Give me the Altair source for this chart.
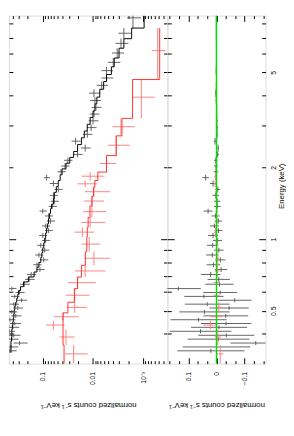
import altair as alt
import pandas as pd

FONT = "Liberation Sans"
TITLE = "normalized counts s⁻¹ keV⁻¹"

# ---------------- data ----------------
# black spectrum: energy bin edges (keV, descending), data, 1-sigma error, model
blk_edges = [9.27, 7.68, 6.93, 6.32, 5.75, 5.28, 4.90, 4.58, 4.25, 3.94, 3.69,
             3.45, 3.24, 3.03, 2.84, 2.66, 2.49, 2.33, 2.20, 2.08, 1.97,
             1.86, 1.76, 1.66, 1.57, 1.48, 1.40, 1.34, 1.28, 1.22, 1.16,
             1.11, 1.06, 1.01, 0.963, 0.919, 0.877, 0.837, 0.798, 0.762, 0.727,
             0.693, 0.661, 0.631, 0.608, 0.585, 0.564, 0.543, 0.523, 0.504, 0.485,
             0.467, 0.450, 0.434, 0.418, 0.402, 0.387, 0.373, 0.359, 0.346, 0.333]
blk_data = [0.0016, 0.00243, 0.00277, 0.0033, 0.00395, 0.00538, 0.00538, 0.00671, 0.00957, 0.00916,
            0.00875, 0.00957, 0.0100, 0.0109, 0.0130, 0.0222, 0.0143, 0.0203, 0.0316, 0.0361,
            0.0431, 0.0838, 0.0614, 0.0492, 0.0614, 0.0588, 0.0642, 0.100, 0.0767, 0.0702,
            0.0876, 0.0767, 0.100, 0.0876, 0.1093, 0.0915, 0.1194, 0.0957, 0.1304, 0.114,
            0.170, 0.186, 0.232, 0.413, 0.29, 0.361, 0.265, 0.378, 0.316, 0.413,
            0.345, 0.45, 0.361, 0.395, 0.47, 0.378, 0.413, 0.29, 0.43, 0.45]
blk_err = [0.0005, 0.0007, 0.0008, 0.0009, 0.0011, 0.0014, 0.0014, 0.0017, 0.0024, 0.0022,
           0.0019, 0.0021, 0.0022, 0.0024, 0.0028, 0.0045, 0.0032, 0.0042, 0.006, 0.007,
           0.008, 0.012, 0.011, 0.009, 0.011, 0.011, 0.012, 0.016, 0.014, 0.013,
           0.016, 0.014, 0.018, 0.016, 0.02, 0.017, 0.022, 0.018, 0.024, 0.022,
           0.035, 0.04, 0.05, 0.08, 0.06, 0.07, 0.06, 0.08, 0.07, 0.09,
           0.08, 0.1, 0.09, 0.1, 0.11, 0.1, 0.11, 0.09, 0.12, 0.12]
blk_model = [0.00096, 0.0017, 0.00243, 0.00303, 0.00378, 0.00431, 0.00538, 0.00614, 0.00733, 0.00838,
             0.00916, 0.0100, 0.0114, 0.0130, 0.0149, 0.0170, 0.0203, 0.0243, 0.029, 0.0345,
             0.0413, 0.0451, 0.0492, 0.0538, 0.0588, 0.0614, 0.0671, 0.0702, 0.0733, 0.0767,
             0.0801, 0.0838, 0.0876, 0.0915, 0.0957, 0.100, 0.1045, 0.1093, 0.1194, 0.1304,
             0.149, 0.194, 0.2425, 0.277, 0.303, 0.316, 0.330, 0.345, 0.361, 0.370,
             0.378, 0.386, 0.395, 0.404, 0.413, 0.413, 0.420, 0.430, 0.430, 0.430]

# red spectrum
red_edges = [7.68, 4.67, 3.21, 2.71, 2.24, 1.91, 1.76, 1.65, 1.51, 1.377, 1.23, 1.119,
             1.019, 0.885, 0.776, 0.693, 0.619, 0.543, 0.490, 0.454, 0.417, 0.359, 0.30]
red_data = [0.000515, 0.00109, 0.00277, 0.00345, 0.00538, 0.0114, 0.0143, 0.00957, 0.0105, 0.0105,
            0.0114, 0.0163, 0.0119, 0.00957, 0.0143, 0.0203, 0.0232, 0.0232, 0.0395, 0.0614,
            0.0345, 0.0243]
red_err = [0.00016, 0.0005, 0.0013, 0.0016, 0.0019, 0.0055, 0.006, 0.005, 0.0045, 0.005,
           0.0057, 0.0068, 0.0048, 0.005, 0.0086, 0.0115, 0.0115, 0.010, 0.02, 0.025,
           0.0115, 0.0115]
red_model = [0.00047, 0.00163, 0.00265, 0.00345, 0.0054, 0.0080, 0.0092, 0.0098, 0.0105, 0.0115,
             0.0125, 0.0130, 0.0133, 0.0142, 0.0170, 0.0203, 0.0235, 0.0316, 0.0395, 0.0395,
             0.0395, 0.0377]

# axis ticks / labels
count_major = [0.001, 0.01, 0.1]
count_minor = [0.0004, 0.0005, 0.0006, 0.0007, 0.0008, 0.0009,
               0.002, 0.003, 0.004, 0.005, 0.006, 0.007, 0.008, 0.009,
               0.02, 0.03, 0.04, 0.05, 0.06, 0.07, 0.08, 0.09,
               0.2, 0.3, 0.4]
energy_major = [1]
energy_minor = [0.4, 0.5, 0.6, 0.7, 0.8, 0.9, 2, 3, 4, 5, 6, 7, 8]
energy_labels = [0.5, 1, 2, 5]
resid_major = [-0.1, 0, 0.1]
resid_minor = [-0.167, -0.133, -0.067, -0.033, 0.033, 0.067, 0.133, 0.167]
zero_line = [0]


def spectrum(edges, data, err, model):
    rows, steps = [], []
    for i in range(len(data)):
        hi, lo = edges[i], edges[i + 1]
        r = data[i] - model[i]
        rows.append(dict(elo=lo, ehi=hi, ec=(lo + hi) / 2, c=data[i],
                         clo=data[i] - err[i], chi=data[i] + err[i],
                         r=r, rlo=r - err[i], rhi=r + err[i]))
        steps.append(dict(e=hi, m=model[i], o=2 * i))
        steps.append(dict(e=lo, m=model[i], o=2 * i + 1))
    return pd.DataFrame(rows), pd.DataFrame(steps)


blk, blk_steps = spectrum(blk_edges, blk_data, blk_err, blk_model)
red, red_steps = spectrum(red_edges, red_data, red_err, red_model)

W1, W2, H = 163, 101, 358
xs = alt.Scale(type="log", domain=[0.00033, 0.471], reverse=True)
ys = alt.Scale(type="log", domain=[0.3, 8.66])
rs = alt.Scale(domain=[-0.175, 0.175], reverse=True)

BLK_DATA = "#505050"
BLK_MODEL = "#000000"
RED_DATA = "#ff8080"
RED_MODEL = "#ff3030"


def tick_axis(orient, values, size, offset):
    return alt.Axis(orient=orient, values=values, labels=False, ticks=True,
                    tickSize=size, tickWidth=1, tickColor="black",
                    domain=False, grid=False, title=None, offset=offset)


def xlabel_axis(values, expr):
    return alt.Axis(orient="bottom", values=values, labelExpr=expr,
                    labelAngle=270, labelAlign="right", labelBaseline="middle",
                    labelFont=FONT, labelFontSize=7, labelColor="black",
                    labelPadding=8, labelOverlap=False, labelFlush=False,
                    ticks=False, tickSize=0, domain=False, grid=False,
                    title=TITLE, titleFont=FONT, titleFontSize=8,
                    titleFontWeight="normal", titleColor="black",
                    titleAngle=180, titleBaseline="middle", titleY=42)


count_expr = "datum.value < 0.005 ? '10⁻³' : (datum.value < 0.05 ? '0.01' : '0.1')"
resid_expr = "datum.value > 0.05 ? '0.1' : (datum.value < -0.05 ? '−0.1' : '0')"

# ---------------- main spectrum panel ----------------
m1 = alt.Chart(blk).mark_rule(color=BLK_DATA, strokeWidth=0.9, clip=True).encode(
    x=alt.X("clo:Q", scale=xs, axis=xlabel_axis(count_major, count_expr)),
    x2="chi:Q",
    y=alt.Y("ec:Q", scale=ys, axis=tick_axis("right", energy_major, 7, -W1)),
)
m2 = alt.Chart(blk).mark_rule(color=BLK_DATA, strokeWidth=0.9, clip=True).encode(
    x=alt.X("c:Q", scale=xs, axis=tick_axis("top", count_major, 6, -H)),
    y=alt.Y("elo:Q", scale=ys, axis=tick_axis("right", energy_minor, 4, -W1)),
    y2="ehi:Q",
)
m3 = alt.Chart(blk_steps).mark_line(color=BLK_MODEL, strokeWidth=1, clip=True).encode(
    x=alt.X("m:Q", scale=xs, axis=tick_axis("top", count_minor, 3, -H)),
    y=alt.Y("e:Q", scale=ys, axis=tick_axis("left", energy_major, 7, -W1)),
    order=alt.Order("o:Q"),
)
m4 = alt.Chart(red).mark_rule(color=RED_DATA, strokeWidth=1, clip=True).encode(
    x=alt.X("clo:Q", scale=xs, axis=tick_axis("bottom", count_major, 6, -H)),
    x2="chi:Q",
    y=alt.Y("ec:Q", scale=ys, axis=tick_axis("left", energy_minor, 4, -W1)),
)
m5 = alt.Chart(red).mark_rule(color=RED_DATA, strokeWidth=1, clip=True).encode(
    x=alt.X("c:Q", scale=xs, axis=tick_axis("bottom", count_minor, 3, -H)),
    y=alt.Y("elo:Q", scale=ys, axis=None),
    y2="ehi:Q",
)
m6 = alt.Chart(red_steps).mark_line(color=RED_MODEL, strokeWidth=1, clip=True).encode(
    x=alt.X("m:Q", scale=xs, axis=None),
    y=alt.Y("e:Q", scale=ys, axis=None),
    order=alt.Order("o:Q"),
)
main = alt.layer(m1, m2, m3, m4, m5, m6).resolve_axis(
    x="independent", y="independent").properties(width=W1, height=H)

# ---------------- residual panel ----------------
energy_axis = alt.Axis(orient="right", values=energy_labels, format="~g",
                       labelAngle=270, labelAlign="center", labelBaseline="top",
                       labelFont=FONT, labelFontSize=7, labelColor="black",
                       labelPadding=4, labelOverlap=False, labelFlush=False,
                       ticks=False, tickSize=0, domain=False, grid=False,
                       title="Energy (keV)", titleFont=FONT, titleFontSize=8,
                       titleFontWeight="normal", titleColor="black",
                       titleAngle=270, titleBaseline="middle", titleAlign="center",
                       titleX=16, titleY=H / 2 - 4)

r1 = alt.Chart(blk).mark_rule(color=BLK_DATA, strokeWidth=0.9, clip=True).encode(
    x=alt.X("rlo:Q", scale=rs, axis=xlabel_axis(resid_major, resid_expr)),
    x2="rhi:Q",
    y=alt.Y("ec:Q", scale=ys, axis=energy_axis),
)
r2 = alt.Chart(blk).mark_rule(color=BLK_DATA, strokeWidth=0.9, clip=True).encode(
    x=alt.X("r:Q", scale=rs, axis=tick_axis("top", resid_major, 6, -H)),
    y=alt.Y("elo:Q", scale=ys, axis=tick_axis("right", energy_major, 7, -W2)),
    y2="ehi:Q",
)
r3 = alt.Chart(red).mark_rule(color=RED_DATA, strokeWidth=1, clip=True).encode(
    x=alt.X("rlo:Q", scale=rs, axis=tick_axis("top", resid_minor, 3, -H)),
    x2="rhi:Q",
    y=alt.Y("ec:Q", scale=ys, axis=tick_axis("right", energy_minor, 4, -W2)),
)
r4 = alt.Chart(red).mark_rule(color=RED_DATA, strokeWidth=1, clip=True).encode(
    x=alt.X("r:Q", scale=rs, axis=tick_axis("bottom", resid_major, 6, -H)),
    y=alt.Y("elo:Q", scale=ys, axis=tick_axis("left", energy_major, 7, -W2)),
    y2="ehi:Q",
)
r5 = alt.Chart(pd.DataFrame({"z": zero_line})).mark_rule(
    color="#00e000", strokeWidth=1.5).encode(
    x=alt.X("z:Q", scale=rs, axis=tick_axis("bottom", resid_minor, 3, -H)),
    y=alt.value(0), y2=alt.value(H),
)
r6 = alt.Chart(blk).mark_rule(opacity=0).encode(
    x=alt.X("r:Q", scale=rs, axis=None),
    y=alt.Y("ec:Q", scale=ys, axis=tick_axis("left", energy_minor, 4, -W2)),
)
resid = alt.layer(r1, r2, r3, r4, r6, r5).resolve_axis(
    x="independent", y="independent").properties(width=W2, height=H)

chart = alt.hconcat(main, resid, spacing=0, bounds="flush").properties(
    padding={"left": 0, "top": 0, "right": 0, "bottom": 0}
).configure_view(stroke="black", strokeWidth=1.5).configure(background="white")

chart.save("out.html", embed_options={"renderer": "svg", "actions": False})
